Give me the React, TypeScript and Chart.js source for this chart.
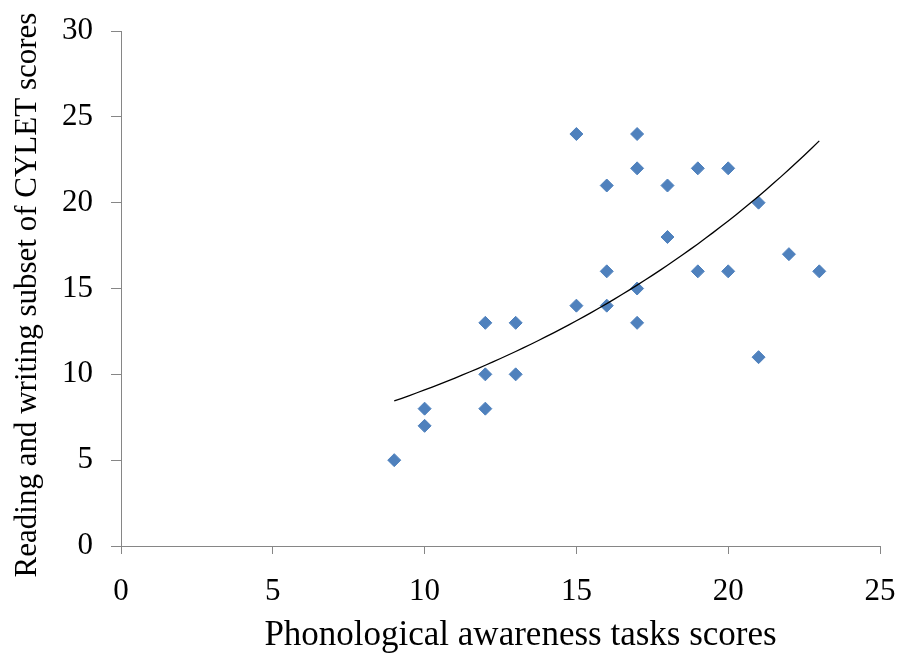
import { useEffect, useRef } from "react";
import { Chart, registerables } from "chart.js";

Chart.register(...registerables);

// ---- Data ----
const phonologicalScores = [9, 10, 10, 12, 12, 12, 13, 13, 15, 15, 16, 16, 16, 17, 17, 17, 17, 18, 18, 19, 19, 20, 20, 21, 21, 22, 23];
const readingWritingScores = [5, 8, 7, 13, 10, 8, 13, 10, 24, 14, 21, 16, 14, 24, 22, 15, 13, 21, 18, 22, 16, 22, 16, 20, 11, 17, 16];
const xAxisMin = 0;
const xAxisMax = 25;
const yAxisMin = 0;
const yAxisMax = 30;
const tickStep = 5;
const xTitle = "Phonological awareness tasks scores";
const yTitle = "Reading and writing subset of CYLET scores";

const SERIF = "'Liberation Serif', 'Times New Roman', serif";

// Exponential trendline (least squares on ln y), like a spreadsheet trendline
function exponentialTrend(xs: number[], ys: number[]) {
  const n = xs.length;
  const ly = ys.map((v) => Math.log(v));
  const mx = xs.reduce((a, b) => a + b, 0) / n;
  const my = ly.reduce((a, b) => a + b, 0) / n;
  let sxy = 0;
  let sxx = 0;
  for (let i = 0; i < n; i++) {
    sxy += (xs[i] - mx) * (ly[i] - my);
    sxx += (xs[i] - mx) * (xs[i] - mx);
  }
  const b = sxy / sxx;
  const a = Math.exp(my - b * mx);
  const lo = Math.min(...xs);
  const hi = Math.max(...xs);
  const pts: { x: number; y: number }[] = [];
  const steps = 56;
  for (let i = 0; i <= steps; i++) {
    const x = lo + ((hi - lo) * i) / steps;
    pts.push({ x, y: a * Math.exp(b * x) });
  }
  return pts;
}

const titlePlugin = {
  id: "customAxisTitles",
  afterDraw(chart: any) {
    const { ctx, chartArea } = chart;
    ctx.save();
    ctx.fillStyle = "#000000";
    ctx.textAlign = "center";
    ctx.textBaseline = "alphabetic";
    ctx.font = `35px ${SERIF}`;
    const cx = (chartArea.left + chartArea.right) / 2 + 20;
    ctx.fillText(xTitle, cx, 645);
    ctx.font = `31px ${SERIF}`;
    ctx.translate(36, 295);
    ctx.rotate(-Math.PI / 2);
    ctx.fillText(yTitle, 0, 0);
    ctx.restore();
  },
};

export default function App() {
  const canvasRef = useRef<HTMLCanvasElement | null>(null);

  useEffect(() => {
    if (!canvasRef.current) return;
    const scatter = phonologicalScores.map((x, i) => ({ x, y: readingWritingScores[i] }));
    const trend = exponentialTrend(phonologicalScores, readingWritingScores);

    const chart = new Chart(canvasRef.current, {
      type: "scatter",
      data: {
        datasets: [
          {
            label: "Scores",
            data: scatter,
            pointStyle: "rectRot",
            pointRadius: 6.5,
            pointHoverRadius: 6.5,
            backgroundColor: "#4F81BD",
            borderColor: "#4F81BD",
            borderWidth: 1,
            order: 2,
          },
          {
            label: "Trend",
            data: trend,
            showLine: true,
            pointRadius: 0,
            borderColor: "#000000",
            borderWidth: 1.3,
            fill: false,
            tension: 0,
            order: 1,
          },
        ],
      },
      options: {
        responsive: false,
        animation: false,
        layout: { padding: { top: 31, right: 20, left: 0, bottom: 0 } },
        plugins: {
          legend: { display: false },
          tooltip: { enabled: false },
          title: { display: false },
        },
        scales: {
          x: {
            type: "linear",
            min: xAxisMin,
            max: xAxisMax,
            afterFit: (scale: any) => {
              scale.height = 107;
              scale.paddingLeft = 0;
              scale.paddingRight = 0;
            },
            ticks: {
              stepSize: tickStep,
              color: "#000000",
              padding: 19,
              font: { family: SERIF, size: 31 },
            },
            grid: {
              drawOnChartArea: false,
              drawTicks: true,
              tickLength: 8,
              color: "#868686",
              tickColor: "#868686",
              tickWidth: 1,
            },
            border: { display: true, color: "#868686", width: 1 },
          },
          y: {
            type: "linear",
            min: yAxisMin,
            max: yAxisMax,
            afterFit: (scale: any) => {
              scale.width = 121;
              scale.paddingTop = 0;
              scale.paddingBottom = 0;
            },
            ticks: {
              stepSize: tickStep,
              color: "#000000",
              padding: 18,
              font: { family: SERIF, size: 31 },
            },
            grid: {
              drawOnChartArea: false,
              drawTicks: true,
              tickLength: 10,
              color: "#868686",
              tickColor: "#868686",
              tickWidth: 1,
            },
            border: { display: true, color: "#868686", width: 1 },
          },
        },
      },
      plugins: [titlePlugin],
    });
    return () => chart.destroy();
  }, []);

  return (
    <div style={{ position: "absolute", left: 0, top: 0, width: 900, height: 653, background: "#ffffff" }}>
      <canvas ref={canvasRef} width={900} height={653} style={{ display: "block" }} />
    </div>
  );
}
